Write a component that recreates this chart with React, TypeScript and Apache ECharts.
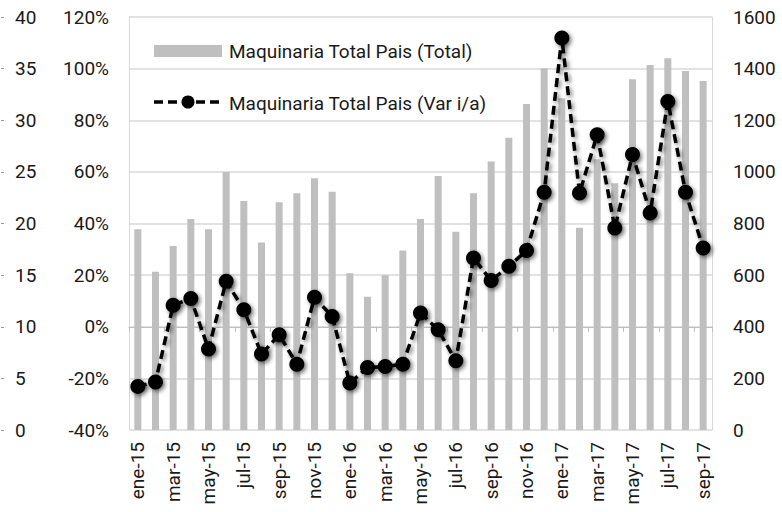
import React, { useEffect, useRef } from "react";
import * as echarts from "echarts";

const categories = [
  "ene-15", "feb-15", "mar-15", "abr-15", "may-15", "jun-15", "jul-15", "ago-15", "sep-15", "oct-15", "nov-15", "dic-15",
  "ene-16", "feb-16", "mar-16", "abr-16", "may-16", "jun-16", "jul-16", "ago-16", "sep-16", "oct-16", "nov-16", "dic-16",
  "ene-17", "feb-17", "mar-17", "abr-17", "may-17", "jun-17", "jul-17", "ago-17", "sep-17",
];

const totalValues = [
  778, 613, 713, 817, 778, 1000, 887, 726, 882, 917, 975, 923,
  607, 516, 600, 695, 817, 984, 768, 917, 1040, 1132, 1263, 1401,
  1285, 784, 1049, 956, 1359, 1414, 1440, 1391, 1352,
];

const varValues = [
  -23.1, -21.4, 8.3, 10.9, -8.6, 17.6, 6.6, -10.6, -3.1, -14.5, 11.4, 4.0,
  -21.8, -15.8, -15.4, -14.5, 5.3, -1.2, -13.2, 26.6, 17.9, 23.4, 29.5, 52.1,
  111.9, 51.8, 74.4, 38.3, 66.7, 44.1, 87.3, 52.1, 30.5,
];

const seriesNames = ["Maquinaria Total Pais (Total)", "Maquinaria Total Pais (Var i/a)"];

const FONT = "Roboto";
const FS = 19;
const TEXT = "#1a1a1a";
const GRID = "#d9d9d9";
const BAR = "#bfbfbf";

export default function App() {
  const ref = useRef<HTMLDivElement>(null);
  useEffect(() => {
    if (!ref.current) return;
    const chart = echarts.init(ref.current, null, { renderer: "svg" });
    const shadow = {
      shadowColor: "rgba(0,0,0,0.55)",
      shadowBlur: 4,
      shadowOffsetX: 2,
      shadowOffsetY: 2,
    };
    chart.setOption({
      animation: false,
      backgroundColor: "#ffffff",
      textStyle: { fontFamily: FONT, color: TEXT },
      grid: { left: 129, right: 70, top: 17, bottom: 82, containLabel: false },
      xAxis: {
        type: "category",
        data: categories,
        boundaryGap: true,
        axisLine: { lineStyle: { color: "#bfbfbf", width: 1 } },
        axisTick: { show: true, interval: 1, length: 5, lineStyle: { color: "#bfbfbf" } },
        axisLabel: { rotate: 90, interval: 1, margin: 12, fontSize: FS, color: TEXT, fontFamily: FONT },
        splitLine: { show: false },
      },
      yAxis: [
        {
          type: "value",
          position: "left",
          min: -40,
          max: 120,
          interval: 20,
          axisLine: { show: true, lineStyle: { color: GRID } },
          axisTick: { show: false },
          axisLabel: { formatter: "{value}%", margin: 20, fontSize: FS, color: TEXT, fontFamily: FONT },
          splitLine: { show: true, lineStyle: { color: GRID, width: 1.5 } },
        },
        {
          type: "value",
          position: "right",
          min: 0,
          max: 1600,
          interval: 200,
          axisLine: { show: true, lineStyle: { color: GRID } },
          axisTick: { show: false },
          axisLabel: { formatter: (v: number) => String(v), margin: 21, fontSize: FS, color: TEXT, fontFamily: FONT },
          splitLine: { show: false },
        },
        {
          type: "value",
          position: "left",
          offset: 128,
          min: 0,
          max: 40,
          interval: 5,
          axisLine: { show: false },
          axisTick: { show: true, inside: true, length: 3, lineStyle: { color: "#9a9a9a" } },
          axisLabel: { inside: true, margin: 14, fontSize: FS, color: TEXT, fontFamily: FONT },
          splitLine: { show: false },
        },
      ],
      series: [
        {
          name: seriesNames[0],
          type: "bar",
          yAxisIndex: 1,
          data: totalValues,
          barWidth: 7,
          itemStyle: { color: BAR },
          z: 1,
        },
        {
          name: seriesNames[1],
          type: "line",
          yAxisIndex: 0,
          data: varValues,
          symbol: "circle",
          symbolSize: 15,
          showAllSymbol: true,
          itemStyle: { color: "#000000", ...shadow },
          lineStyle: { color: "#000000", width: 3.5, type: [9, 5], ...shadow },
          z: 3,
        },
      ],
      graphic: [
        { type: "rect", shape: { x: 154, y: 45, width: 68, height: 12 }, style: { fill: BAR }, z: 10 },
        {
          type: "text",
          x: 229,
          y: 51,
          style: { text: seriesNames[0], fontFamily: FONT, fontSize: FS, fill: TEXT, verticalAlign: "middle", align: "left" },
          z: 10,
        },
        {
          type: "line",
          shape: { x1: 154, y1: 102, x2: 222, y2: 102 },
          style: { stroke: "#000000", lineWidth: 3.5, lineDash: [9, 5] },
          z: 10,
        },
        { type: "circle", shape: { cx: 188, cy: 102, r: 6.5 }, style: { fill: "#000000" }, z: 10 },
        {
          type: "text",
          x: 229,
          y: 103,
          style: { text: seriesNames[1], fontFamily: FONT, fontSize: FS, fill: TEXT, verticalAlign: "middle", align: "left" },
          z: 10,
        },
      ],
    });
    return () => chart.dispose();
  }, []);
  return (
    <div
      ref={ref}
      style={{ position: "fixed", left: 0, top: 0, width: 782, height: 512, background: "#fff" }}
    />
  );
}
